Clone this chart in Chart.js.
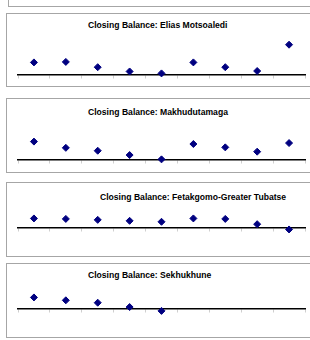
<!DOCTYPE html>
<html>
<head>
<meta charset="utf-8">
<script src="https://cdn.jsdelivr.net/npm/chart.js@4.4.0/dist/chart.umd.min.js"></script>
<style>
  body { margin: 0; width: 310px; height: 340px; overflow: hidden; background: #fff; position: relative;
         font-family: "Liberation Sans", Arial, sans-serif; }
  .box { position: absolute; left: 6px; width: 330px; border: 1px solid #a6a6a6; box-sizing: border-box; }
  .stub { position: absolute; left: 8px; top: -10px; width: 330px; height: 17px;
          border-left: 1px solid #a6a6a6; border-bottom: 1px solid #a6a6a6; box-sizing: border-box; }
  .ttl { position: absolute; font-weight: bold; font-size: 8.6px; line-height: 10px; white-space: nowrap; color: #000; }
  canvas { position: absolute; left: 0; }
</style>
</head>
<body>
<div class="stub"></div>
<div id="wrap"></div>
<script>
// periods along the x axis (no labels shown in the picture)
var categories = ['1', '2', '3', '4', '5', '6', '7', '8', '9'];

// closing balances per municipality (arbitrary units)
var eliasMotsoaledi = [12.5, 13, 7.5, 3, 1, 12.5, 7.5, 3.5, 31];
var makhudutamaga = [18.5, 12, 9, 4.5, 0, 16, 12.5, 8, 17];
var fetakgomoTubatse = [10, 9.5, 8.5, 7.5, 6.5, 10, 9.5, 4, -1.5];
var sekhukhune = [12, 9, 6.5, 2, -2, null, null, null, null];

var titles = [
  'Closing Balance: Elias Motsoaledi',
  'Closing Balance: Makhudutamaga',
  'Closing Balance: Fetakgomo-Greater Tubatse',
  'Closing Balance: Sekhukhune'
];
var series = [eliasMotsoaledi, makhudutamaga, fetakgomoTubatse, sekhukhune];

// where each chart box sits on the page (pixels)
var panels = [
  { top: 13,  bottom: 86,  areaTop: 38,  areaBottom: 84,  axisAt: 76,  titleX: 88,  titleY: 20 },
  { top: 98,  bottom: 172, areaTop: 120, areaBottom: 170, axisAt: 161, titleX: 88,  titleY: 107 },
  { top: 182, bottom: 256, areaTop: 205, areaBottom: 254, axisAt: 229, titleX: 100, titleY: 192 },
  { top: 263, bottom: 337, areaTop: 283, areaBottom: 335, axisAt: 310, titleX: 88,  titleY: 270 }
];

var wrap = document.getElementById('wrap');

panels.forEach(function (p, i) {
  var box = document.createElement('div');
  box.className = 'box';
  box.style.top = p.top + 'px';
  box.style.height = (p.bottom - p.top + 1) + 'px';
  wrap.appendChild(box);

  var title = document.createElement('div');
  title.className = 'ttl';
  title.style.left = p.titleX + 'px';
  title.style.top = p.titleY + 'px';
  title.textContent = titles[i];
  wrap.appendChild(title);

  var canvas = document.createElement('canvas');
  var h = p.bottom - p.top + 1;
  canvas.width = 310;
  canvas.height = h;
  canvas.style.top = p.top + 'px';
  wrap.appendChild(canvas);

  // 1 unit = 1 pixel, zero sits on the axis line
  var yMax = p.axisAt - p.areaTop;
  var yMin = p.axisAt - p.areaBottom;

  new Chart(canvas, {
    type: 'line',
    data: {
      labels: categories,
      datasets: [{
        data: series[i],
        showLine: false,
        pointStyle: 'rectRot',
        pointRadius: 3.5,
        pointBorderWidth: 1,
        backgroundColor: '#000080',
        borderColor: '#000080'
      }]
    },
    options: {
      responsive: false,
      animation: false,
      devicePixelRatio: 1,
      layout: { padding: { left: 18, right: 3, top: p.areaTop - p.top, bottom: p.bottom - p.areaBottom } },
      plugins: { legend: { display: false }, tooltip: { enabled: false } },
      scales: {
        x: {
          position: { y: 0 },
          offset: true,
          grid: { offset: true, drawOnChartArea: false, tickLength: 3, color: '#cfcfcf' },
          border: { color: '#000', width: 1.5 },
          ticks: { display: false },
          afterFit: function (scale) { scale.height = 0; }
        },
        y: { display: false, min: yMin, max: yMax }
      }
    }
  });
});
</script>
</body>
</html>
